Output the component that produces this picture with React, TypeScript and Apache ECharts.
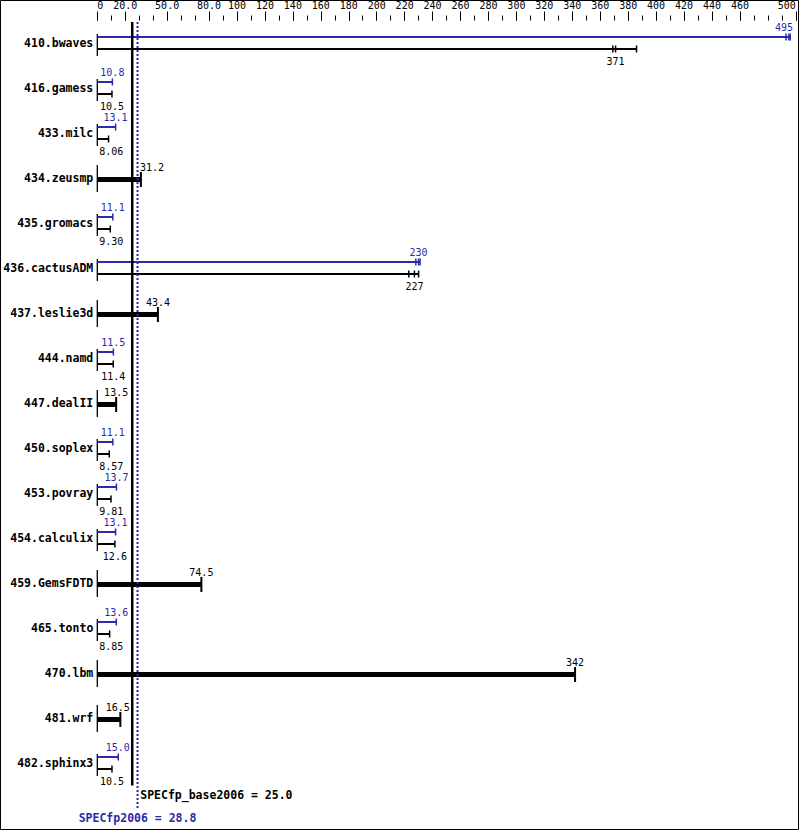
import React, { useEffect, useRef } from 'react';
import * as echarts from 'echarts';

const benchmarks = [
  '410.bwaves', '416.gamess', '433.milc', '434.zeusmp', '435.gromacs', '436.cactusADM',
  '437.leslie3d', '444.namd', '447.dealII', '450.soplex', '453.povray', '454.calculix',
  '459.GemsFDTD', '465.tonto', '470.lbm', '481.wrf', '482.sphinx3',
];
// base ratio (black) and peak ratio (blue); null peak = only base shown (thick bar)
const baseRatio = [371, 10.5, 8.06, 31.2, 9.30, 227, 43.4, 11.4, 13.5, 8.57, 9.81, 12.6, 74.5, 8.85, 342, 16.5, 10.5];
const peakRatio: (number | null)[] = [495, 10.8, 13.1, null, 11.1, 230, null, 11.5, null, 11.1, 13.7, 13.1, null, 13.6, null, null, 15.0];
// individual run values where they visibly differ from the median (empty = median only)
const baseRuns: number[][] = [[369, 371, 386], [], [], [], [], [223, 227, 230], [], [], [], [], [], [], [], [], [], [], []];
const peakRuns: number[][] = [[493, 495, 496], [], [], [], [], [228, 230, 231], [], [], [], [], [], [], [], [], [], [], []];

const axisLabelValues = [0, 20, 50, 80, 100, 120, 140, 160, 180, 200, 220, 240, 260, 280, 300, 320, 340, 360, 380, 400, 420, 440, 460, 500];
const baseScore = 25.0;
const peakScore = 28.8;
const baseScoreLabel = 'SPECfp_base2006 = 25.0';
const peakScoreLabel = 'SPECfp2006 = 28.8';

const BLUE = '#2a2aaa';
const MONO = '"DejaVu Sans Mono", monospace';

function fmt(v: number) {
  return v.toPrecision(3);
}

export default function App() {
  const ref = useRef<HTMLDivElement>(null);
  useEffect(() => {
    if (!ref.current) return;
    const chart = echarts.init(ref.current, null, { renderer: 'svg' });
    const grid = { left: 97.3, right: 3.2, top: 20.5, bottom: 45.5, containLabel: false, outerBoundsMode: 'none' } as any;

    const renderBars = (params: any, api: any) => {
      const i = api.value(2) as number;
      const pt0 = api.coord([0, i]);
      const x0 = pt0[0];
      const yc = Math.round(pt0[1]);
      const xs = (v: number) => api.coord([v, i])[0];
      const zoneL = xs(baseScore) - 2.5;
      const zoneR = xs(peakScore) + 2.5;
      const charW = 6.02;
      const place = (center: number, text: string) => {
        const w = text.length * charW;
        let l = center - w / 2;
        if (l < x0 + 2) l = x0 + 2;
        if (l + w > 793) l = 793 - w;
        if (l < zoneR && l + w > zoneL) {
          const sl = l + w - zoneL;
          const sr = zoneR - l;
          if (sl <= sr) l -= sl; else l += sr;
        }
        return l + w / 2;
      };
      const children: any[] = [];
      const peak = peakRatio[i];
      const base = baseRatio[i];
      const line = (x1: number, y1: number, x2: number, y2: number, color: string, w: number) => ({
        type: 'line', shape: { x1, y1, x2, y2 }, style: { stroke: color, lineWidth: w },
      });
      const text = (t: string, x: number, y: number, color: string) => ({
        type: 'text',
        style: { text: t, x, y, fill: color, font: `10px ${MONO}`, align: 'center', verticalAlign: 'middle' },
      });
      if (peak == null) {
        children.push(line(x0, yc - 13, x0, yc + 14, '#000', 1.3));
        const xb = xs(base);
        children.push({ type: 'rect', shape: { x: x0, y: yc - 1, width: xb - x0, height: 5 }, style: { fill: '#000' } });
        children.push(line(xb, yc - 6, xb, yc + 9, '#000', 2));
        const t = fmt(base);
        children.push(text(t, place(xb, t), yc - 11, '#000'));
      } else {
        children.push(line(x0, yc - 9, x0, yc + 13, '#000', 1.3));
        const drawThin = (median: number, runs: number[], y: number, color: string) => {
          const r = runs.length ? runs : [median];
          const mx = Math.max(...r);
          children.push(line(x0, y, xs(mx), y, color, 2));
          r.forEach((v) => children.push(line(xs(v), y - 3.5, xs(v), y + 3.5, color, 1.5)));
        };
        drawThin(peak, peakRuns[i], yc - 6, BLUE);
        drawThin(base, baseRuns[i], yc + 6, '#000');
        const tp = fmt(peak);
        children.push(text(tp, place(xs(peak), tp), yc - 16, BLUE));
        const tb = fmt(base);
        children.push(text(tb, place(xs(base), tb), yc + 18, '#000'));
      }
      return { type: 'group', children };
    };

    const renderRefs = (params: any, api: any) => {
      const cs = params.coordSys;
      const xb = api.coord([api.value(0), 0])[0];
      const xp = api.coord([api.value(1), 0])[0];
      const top = cs.y + 1.5;
      const bottom = cs.y + cs.height;
      return {
        type: 'group',
        children: [
          { type: 'line', shape: { x1: xb, y1: top, x2: xb, y2: bottom }, style: { stroke: '#000', lineWidth: 2.5 } },
          { type: 'line', shape: { x1: xp, y1: top, x2: xp, y2: bottom + 22.5 }, style: { stroke: BLUE, lineWidth: 2, lineDash: [2, 2] } },
          {
            type: 'text',
            style: { text: baseScoreLabel, x: xb + 8, y: bottom + 9.5, fill: '#000', font: `bold 11.5px ${MONO}`, align: 'left', verticalAlign: 'middle' },
          },
          {
            type: 'text',
            style: { text: peakScoreLabel, x: xp, y: bottom + 32, fill: BLUE, font: `bold 11.5px ${MONO}`, align: 'center', verticalAlign: 'middle' },
          },
        ],
      };
    };

    const option: any = {
      animation: false,
      backgroundColor: '#fff',
      grid: [grid, { ...grid }],
      xAxis: [
        {
          type: 'value', gridIndex: 0, position: 'top', min: 0, max: 500, interval: 10,
          axisLine: { show: false },
          axisTick: { show: true, length: 9, customValues: axisLabelValues, lineStyle: { color: '#000', width: 1 } },
          axisLabel: {
            show: true, customValues: axisLabelValues, margin: 10, fontSize: 10, fontFamily: MONO, color: '#000',
            alignMinLabel: 'left', alignMaxLabel: 'right',
            formatter: (v: number) => (v === 0 ? '0' : v < 100 ? v.toFixed(1) : String(v)),
          },
          splitLine: { show: false },
        },
        {
          type: 'value', gridIndex: 1, position: 'top', min: 0, max: 500, interval: 10,
          axisLine: { show: false },
          axisTick: { show: true, length: 5, lineStyle: { color: '#000', width: 1 } },
          axisLabel: { show: false },
          splitLine: { show: false },
        },
      ],
      yAxis: [
        {
          type: 'category', gridIndex: 0, data: benchmarks, inverse: true,
          axisLine: { show: false }, axisTick: { show: false },
          axisLabel: { margin: 4, fontSize: 11.5, fontWeight: 'bold', fontFamily: MONO, color: '#000' },
          splitLine: { show: false },
        },
        {
          type: 'category', gridIndex: 1, data: benchmarks, inverse: true, show: false,
        },
      ],
      graphic: [
        {
          type: 'rect', silent: true, z: -1,
          shape: { x: 0.5, y: 0.5, width: 798, height: 829 },
          style: { fill: 'none', stroke: '#000', lineWidth: 1 },
        },
      ],
      series: [
        {
          type: 'custom', xAxisIndex: 0, yAxisIndex: 0, z: 2,
          data: benchmarks.map((_, i) => [baseRatio[i], peakRatio[i] ?? baseRatio[i], i]),
          encode: { x: [0, 1], y: 2 },
          renderItem: renderBars,
        },
        {
          type: 'custom', xAxisIndex: 0, yAxisIndex: 0, z: 5,
          data: [[baseScore, peakScore, 0]],
          encode: { x: [0, 1], y: 2 },
          renderItem: renderRefs,
        },
      ],
    };
    chart.setOption(option);
    return () => chart.dispose();
  }, []);
  return <div ref={ref} style={{ position: 'fixed', left: 0, top: 0, width: 799, height: 831, background: '#fff' }} />;
}
